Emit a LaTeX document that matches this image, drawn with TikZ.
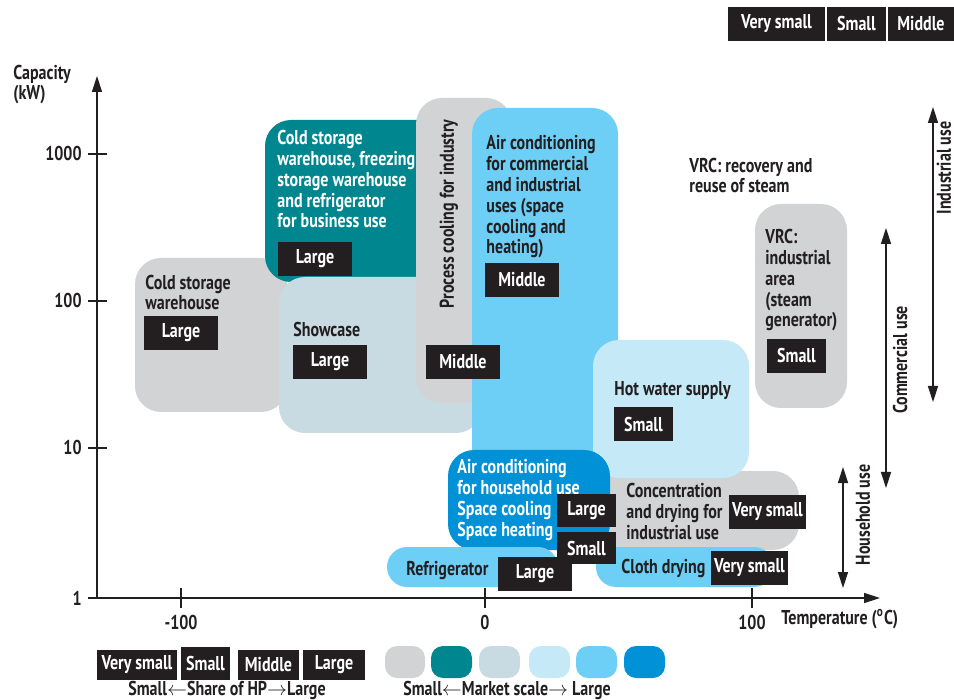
\documentclass[tikz,border=0pt]{standalone}
\usepackage{fontspec}
\setmainfont{PT Sans}[FakeStretch=0.8]
\usetikzlibrary{arrows.meta}
\definecolor{gr}{HTML}{D1D3D4}
\definecolor{tl}{HTML}{00868F}
\definecolor{sc}{HTML}{C9DBE2}
\definecolor{lsky}{HTML}{C6E9F8}
\definecolor{sky}{HTML}{6DCFF6}
\definecolor{blu}{HTML}{0091D6}
\definecolor{dk}{HTML}{231F20}
\newcommand\myfs{\fontsize{10}{10.4}\selectfont\bfseries}
\tikzset{
  every node/.style={font=\myfs},
  txt/.style={anchor=base west, inner sep=0pt, align=left, text=dk},
  wtxt/.style={txt, text=white},
  lb/.style={fill=dk, text=white, inner sep=0pt, minimum height=17pt},
  bx/.style={rounded corners=13pt},
  sw/.style={rounded corners=6pt},
  axisline/.style={line width=0.7pt, draw=dk},
  tip/.style={-{Triangle[length=8pt,width=5pt]}},
  dtip/.style={{Triangle[length=8pt,width=5pt]}-{Triangle[length=8pt,width=5pt]}},
}
\begin{document}
\begin{tikzpicture}[x=0.5pt,y=-0.5pt]
\useasboundingbox (0,0) rectangle (954,700);
% ---------- regions ----------
\fill[gr,bx] (135,258) rectangle (287,412);
\fill[tl,bx] (265,120) rectangle (445,282);
\fill[sc,bx] (279,277) rectangle (482,433);
\fill[gr,bx] (416,98) rectangle (512,403);
\fill[sky,bx] (472,108) rectangle (618,478);
\fill[gr,bx] (590,471) rectangle (799,550);
\fill[lsky,bx] (593,340) rectangle (749,478);
\fill[gr,bx] (755,204) rectangle (847,408);
\fill[blu,bx] (448,450) rectangle (610,550);
\fill[sky,rounded corners=10pt] (387,547) rectangle (558,587);
\fill[sky,rounded corners=10pt] (596,547) rectangle (774,587);
% ---------- axes ----------
\coordinate (O) at (97,598);
\coordinate (ytop) at (97,76);
\coordinate (xend) at (880,598);
\draw[axisline,tip] (O) -- (ytop);
\draw[axisline,tip] (O) -- (xend);
\foreach \yy/\lab/\nm in {154/1000/ya,301/100/yb,448/10/yc,598/1/yd}{
  \draw[axisline] (88,\yy) -- (107,\yy);
  \node[anchor=east,inner sep=0pt,text=dk] (\nm) at (82,\yy) {\lab};
}
\foreach \xx/\lab/\nm in {181/-100/xa,485/0/xb,752/100/xc}{
  \draw[axisline] (\xx,588) -- (\xx,608);
  \node[inner sep=0pt,text=dk] (\nm) at (\xx,622) {\lab};
}
\node[txt] (cap) at (13,100) {Capacity\\(kW)};
\node[anchor=west,inner sep=0pt,text=dk] (temp) at (781,619) {Temperature (\textsuperscript{o}C)};
% ---------- texts (base = last line) ----------
\node[txt] (t1) at (145,310) {Cold storage\\warehouse};
\node[wtxt] (t2) at (277,228) {Cold storage\\warehouse, freezing\\storage warehouse\\and refrigerator\\for business use};
\node[txt] (t3) at (293,337) {Showcase};
\node[inner sep=0pt,text=dk,rotate=90] (t4) at (449,214) {Process cooling for industry};
\node[txt] (t5) at (486,254) {Air conditioning\\for commercial\\and industrial\\uses (space\\cooling and\\heating)};
\node[txt] (t6) at (689,193) {VRC: recovery and\\reuse of steam};
\node[txt] (t7) at (765,327) {VRC:\\industrial\\area\\(steam\\generator)};
\node[txt] (t8) at (614,395) {Hot water supply};
\node[wtxt] (t9) at (457,536) {Air conditioning\\for household use\\Space cooling\\Space heating};
\node[txt] (t10) at (626,539) {Concentration\\and drying for\\industrial use};
\node[txt] (t11) at (406,575) {Refrigerator};
\node[txt] (t12) at (621,573) {Cloth drying};
% ---------- share labels ----------
\node[lb,minimum width=37pt] (l1) at (315,259) {Large};
\node[lb,minimum width=37pt] (l2) at (181,333) {Large};
\node[lb,minimum width=37pt] (l3) at (330,362) {Large};
\node[lb,minimum width=37pt] (l4) at (522,280) {Middle};
\node[lb,minimum width=37pt] (l5) at (463,362) {Middle};
\node[lb,minimum width=29.5pt] (l6) at (643.5,424) {Small};
\node[lb,minimum width=29.5pt] (l7) at (796.5,356) {Small};
\node[lb,minimum width=29.5pt,minimum height=16.5pt] (l8) at (586.5,510.5) {Large};
\node[lb,minimum width=29.5pt,minimum height=16pt] (l9) at (586.5,548) {Small};
\node[lb,minimum width=37pt] (l10) at (535,574) {Large};
\node[lb,minimum width=38.5pt] (l11) at (767.5,511.5) {Very small};
\node[lb,minimum width=38.5pt] (l12) at (749.5,567.5) {Very small};
% ---------- right arrows ----------
\coordinate (ia) at (933,107); \coordinate (ib) at (933,402);
\coordinate (ca) at (886,228); \coordinate (cb) at (886,488);
\coordinate (ha) at (843,467); \coordinate (hb) at (843,588);
\draw[axisline,dtip] (ia) -- (ib);
\draw[axisline,dtip] (ca) -- (cb);
\draw[axisline,dtip] (ha) -- (hb);
\node[inner sep=0pt,text=dk,rotate=90] (iu) at (944,168) {Industrial use};
\node[inner sep=0pt,text=dk,rotate=90] (cu) at (900,360) {Commercial use};
\node[inner sep=0pt,text=dk,rotate=90] (hu) at (863,515) {Household use};
% ---------- top legend ----------
\node[lb,minimum width=48.5pt] (g1) at (776.5,24) {Very small};
\node[lb,minimum width=29.5pt] (g2) at (856.5,24) {Small};
\node[lb,minimum width=33pt] (g3) at (921,24) {Middle};
% ---------- bottom legend ----------
\node[lb,minimum width=40pt,minimum height=15pt] (b1) at (137,665) {Very small};
\node[lb,minimum width=24.5pt,minimum height=16.5pt] (b2) at (205.5,663.5) {Small};
\node[lb,minimum width=30.5pt,minimum height=15pt] (b3) at (268.5,665) {Middle};
\node[lb,minimum width=31pt,minimum height=15pt] (b4) at (334,665) {Large};
\node[inner sep=0pt,text=dk] (bt1) at (227,690) {Small$\leftarrow$Share of HP$\rightarrow$Large};
\fill[gr,sw] (385,646) rectangle (425,678);
\fill[tl,sw] (431,646) rectangle (472,678);
\fill[sc,sw] (479,646) rectangle (520,678);
\fill[lsky,sw] (529,646) rectangle (570,678);
\fill[sky,sw] (576,646) rectangle (617,678);
\fill[blu,sw] (624,646) rectangle (665,678);
\node[inner sep=0pt,text=dk] (bt2) at (507,690) {Small$\leftarrow$Market scale$\rightarrow$ Large};
\end{tikzpicture}
\end{document}
